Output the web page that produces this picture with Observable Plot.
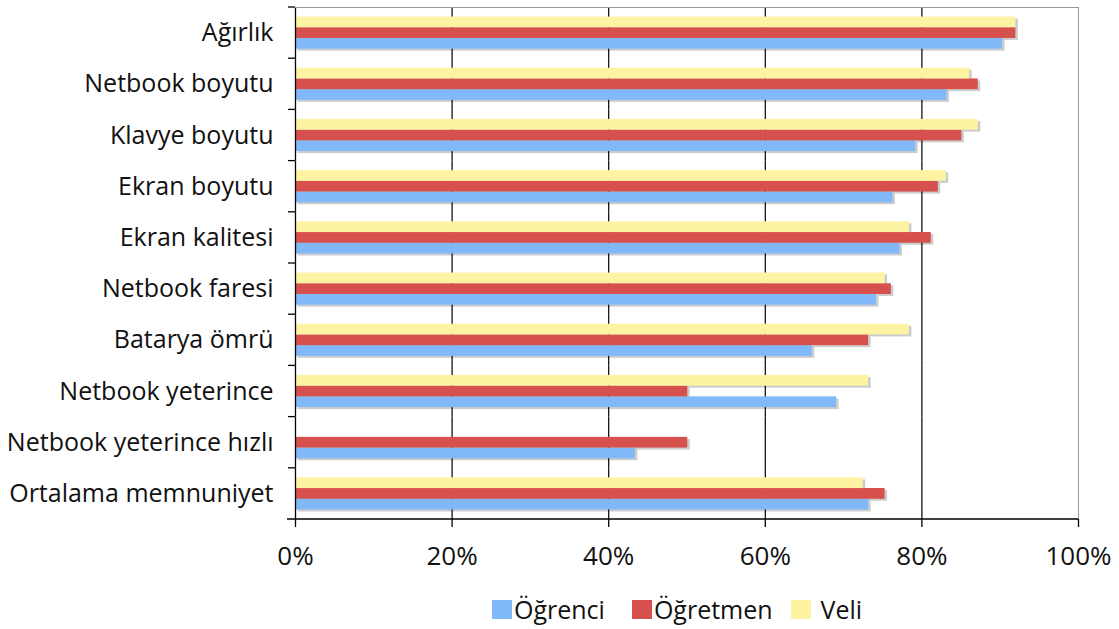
<!DOCTYPE html>
<html>
<head>
<meta charset="utf-8">
<script src="https://cdn.jsdelivr.net/npm/d3@7"></script>
<script src="https://cdn.jsdelivr.net/npm/@observablehq/plot@0.6"></script>
<style>
  html, body { margin: 0; padding: 0; background: #fff; }
  #wrap { width: 1119px; position: relative; }
  #legend { display: flex; align-items: center; margin-left: 492px; margin-top: 12px;
            font-family: "Open Sans", sans-serif; font-size: 25px; color: #111; line-height: 34px; }
  #legend .item { display: flex; align-items: center; }
  #legend .sw { width: 20px; height: 19px; margin-right: 2px; }
</style>
</head>
<body>
<div id="wrap"></div>
<script>
const categories = ["Ağırlık","Netbook boyutu","Klavye boyutu","Ekran boyutu","Ekran kalitesi","Netbook faresi","Batarya ömrü","Netbook yeterince","Netbook yeterince hızlı","Ortalama memnuniyet"];
const seriesNames = ["Öğrenci","Öğretmen","Veli"];
const seriesColors = ["#80b8f8","#d6504e","#fdf3a3"];
const ogrenci  = [90.3, 83.2, 79.2, 76.3, 77.2, 74.2, 66.0, 69.1, 43.4, 73.2];
const ogretmen = [92.0, 87.2, 85.1, 82.1, 81.2, 76.1, 73.2, 50.1, 50.1, 75.3];
const veli     = [92.0, 86.1, 87.2, 83.1, 78.4, 75.3, 78.4, 73.2, null, 72.5];
const xTicks = [0, 20, 40, 60, 80, 100];
const gridTicks = [20, 40, 60, 80];

const valuesBySeries = [ogrenci, ogretmen, veli];
const rows = [];
categories.forEach((c, i) => {
  seriesNames.forEach((s, j) => {
    const v = valuesBySeries[j][i];
    if (v != null) rows.push({cat: c, series: s, value: v});
  });
});

const plot = Plot.plot({
  width: 1119,
  height: 580,
  marginLeft: 295,
  marginRight: 41,
  marginTop: 7,
  marginBottom: 61,
  style: {fontFamily: "Open Sans, sans-serif", fontSize: "25px", color: "#111", background: "#fff"},
  x: {domain: [0, 100], label: null, axis: null},
  y: {domain: ["Veli", "Öğretmen", "Öğrenci"], paddingInner: 0, paddingOuter: 0.89, axis: null, round: false},
  fy: {domain: categories, padding: 0, label: null, axis: null, round: false},
  color: {domain: seriesNames, range: seriesColors},
  marks: [
    Plot.ruleX(gridTicks, {stroke: "#000", strokeWidth: 1.2}),
    Plot.barX(rows, {fy: "cat", y: "series", x: "value", fill: "#000", fillOpacity: 0.2, dx: 2.5, dy: 2}),
    Plot.barX(rows, {fy: "cat", y: "series", x: "value", fill: "series"}),
    Plot.ruleX([100], {stroke: "#999", strokeWidth: 1}),
    Plot.ruleX([0], {stroke: "#000", strokeWidth: 1.3}),
    Plot.axisX({ticks: xTicks, tickFormat: d => d + "%", tickSize: 8, tickPadding: 19, fontSize: 26, label: null, stroke: "#000", strokeWidth: 1.3}),
    Plot.axisFy({anchor: "left", tickSize: 0, tickPadding: 22, fontSize: 25, label: null})
  ]
});

// frame lines and category boundary ticks, positioned from the plot's scales
const sx = plot.scale("x");
const sfy = plot.scale("fy");
const x0 = sx.apply(0), x1 = sx.apply(100);
const yTop = sfy.apply(categories[0]);
const step = sfy.step;
const yBot = sfy.apply(categories[categories.length - 1]) + step;
const g = d3.select(plot).append("g");
g.append("line").attr("x1", x0).attr("x2", x1).attr("y1", yTop + 0.5).attr("y2", yTop + 0.5)
  .attr("stroke", "#999");
g.append("line").attr("x1", x0 - 8).attr("x2", x1).attr("y1", yBot).attr("y2", yBot)
  .attr("stroke", "#000").attr("stroke-width", 1.3);
categories.forEach((c, i) => {
  const y = sfy.apply(c);
  g.append("line").attr("x1", x0 - 7).attr("x2", x0).attr("y1", y).attr("y2", y)
    .attr("stroke", "#000").attr("stroke-width", 1.3);
});

const wrap = document.getElementById("wrap");
wrap.appendChild(plot);

const legend = document.createElement("div");
legend.id = "legend";
const itemGaps = [27, 18, 0];
seriesNames.forEach((s, j) => {
  const item = document.createElement("div");
  item.className = "item";
  item.style.marginRight = itemGaps[j] + "px";
  const sw = document.createElement("div");
  sw.className = "sw";
  sw.style.background = seriesColors[j];
  if (j === 2) sw.style.marginRight = "10px";
  const t = document.createElement("span");
  t.textContent = s;
  item.appendChild(sw);
  item.appendChild(t);
  legend.appendChild(item);
});
wrap.appendChild(legend);
</script>
</body>
</html>
